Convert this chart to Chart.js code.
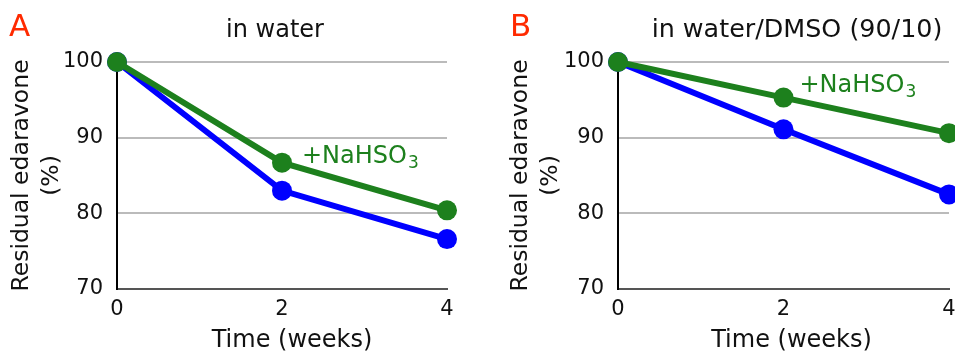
<!DOCTYPE html>
<html>
<head>
<meta charset="utf-8">
<script src="https://cdn.jsdelivr.net/npm/chart.js"></script>
<style>
  body { margin: 0; background: #fff; overflow: hidden; }
  canvas { position: absolute; top: 0; }
  #chartA { left: 0; }
  #chartB { left: 477px; }
</style>
</head>
<body>
<canvas id="chartA" width="477" height="353"></canvas>
<canvas id="chartB" width="482" height="353"></canvas>

<script>
// ---- data ----
const weeks = ['0', '2', '4'];
const yTicks = [70, 80, 90, 100];

const waterPlain = [100, 83.0, 76.6];
const waterBisulfite = [100, 86.7, 80.4];

const dmsoPlain = [100, 91.1, 82.5];
const dmsoBisulfite = [100, 95.3, 90.6];

const panelLetters = ['A', 'B'];
const panelTitles = ['in water', 'in water/DMSO (90/10)'];
const yTitle = ['Residual edaravone', '(%)'];
const xTitle = 'Time (weeks)';
const seriesNote = ['+NaHSO', '3'];

const GREEN = '#1d801d';
const BLUE = '#0000ff';
const FONT = "'DejaVu Sans', Verdana, sans-serif";

// text drawn on top of each panel: letter, title, x title, +NaHSO3 annotation
const labelsPlugin = {
  id: 'panelLabels',
  afterDraw(chart) {
    const o = chart.options.plugins.panelLabels;
    const ctx = chart.ctx;
    const area = chart.chartArea;
    ctx.save();
    ctx.textBaseline = 'alphabetic';

    ctx.fillStyle = '#ff2a00';
    ctx.font = '31px ' + FONT;
    ctx.textAlign = 'left';
    ctx.fillText(o.letter, o.letterX, 36);

    ctx.fillStyle = '#111';
    ctx.font = o.titleSize + 'px ' + FONT;
    ctx.textAlign = 'center';
    ctx.fillText(o.title, o.titleX, 37);

    ctx.font = '24px ' + FONT;
    ctx.fillText(xTitle, (area.left + area.right) / 2 + o.xTitleDx, 347);

    // annotation next to the green week-2 point
    const pt = chart.getDatasetMeta(0).data[1];
    const x = pt.x + o.noteDx;
    const y = pt.y + o.noteDy;
    ctx.fillStyle = GREEN;
    ctx.textAlign = 'left';
    ctx.font = '24px ' + FONT;
    ctx.fillText(seriesNote[0], x, y);
    const w = ctx.measureText(seriesNote[0]).width;
    ctx.font = '17px ' + FONT;
    ctx.fillText(seriesNote[1], x + w + 1, y + 5);
    ctx.restore();
  }
};

function makeChart(id, green, blue, opts) {
  const ctx = document.getElementById(id).getContext('2d');
  const line = (data, color) => ({
    data: data,
    borderColor: color,
    backgroundColor: color,
    pointBackgroundColor: color,
    borderWidth: 6,
    pointRadius: 10,
    pointBorderWidth: 0,
    tension: 0,
    clip: false
  });
  return new Chart(ctx, {
    type: 'line',
    data: {
      labels: weeks,
      datasets: [line(green, GREEN), line(blue, BLUE)]
    },
    options: {
      responsive: false,
      animation: false,
      events: [],
      layout: { padding: { top: 62, right: opts.padRight, bottom: 0, left: 0 } },
      plugins: {
        legend: { display: false },
        tooltip: { enabled: false },
        panelLabels: opts.labels
      },
      scales: {
        x: {
          type: 'category',
          offset: false,
          afterFit(scale) {
            scale.height = 64;
            scale.paddingLeft = 0;
            scale.paddingRight = 0;
          },
          grid: { display: false, drawTicks: false },
          border: { color: '#555', width: 2 },
          ticks: { color: '#111', font: { family: FONT, size: 21 }, padding: 8, maxRotation: 0 }
        },
        y: {
          min: 70,
          max: 100,
          afterFit(scale) { scale.width = opts.yWidth; },
          afterBuildTicks(scale) { scale.ticks = yTicks.map(v => ({ value: v })); },
          grid: { color: '#bbb', lineWidth: 2, drawTicks: false },
          border: { color: '#000', width: 2 },
          ticks: { color: '#111', font: { family: FONT, size: 21 }, padding: 14 },
          title: {
            display: true,
            text: yTitle,
            color: '#111',
            font: { family: FONT, size: 23.5, lineHeight: 1.28 },
            padding: { top: opts.yTitlePad, bottom: 0 }
          }
        }
      }
    },
    plugins: [labelsPlugin]
  });
}

makeChart('chartA', waterBisulfite, waterPlain, {
  padRight: 30,
  yWidth: 117,
  yTitlePad: 7,
  labels: { letter: panelLetters[0], letterX: 9, title: panelTitles[0], titleX: 275, titleSize: 24,
            xTitleDx: 10, noteDx: 20, noteDy: 0 }
});

makeChart('chartB', dmsoBisulfite, dmsoPlain, {
  padRight: 3,
  yWidth: 141,
  yTitlePad: 29,
  labels: { letter: panelLetters[1], letterX: 33, title: panelTitles[1], titleX: 320, titleSize: 25.4,
            xTitleDx: 8, noteDx: 16, noteDy: -6 }
});
</script>
</body>
</html>
